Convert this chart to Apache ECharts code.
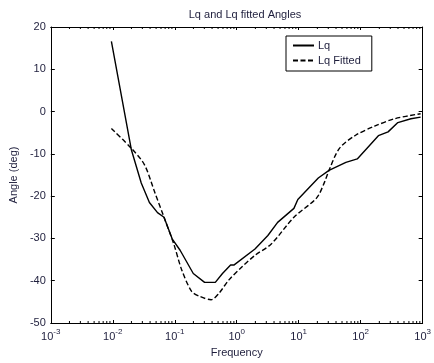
<!DOCTYPE html>
<html><head><meta charset="utf-8">
<script src="https://cdn.jsdelivr.net/npm/echarts@6/dist/echarts.min.js"></script>
<style>html,body{margin:0;padding:0;background:#fff}#c{width:434px;height:363px}</style>
</head><body><div id="c"></div>
<script>
// Data
var lqFreq = [0.0095, 0.020, 0.0288, 0.039, 0.0527, 0.0671, 0.0908, 0.122, 0.199, 0.303, 0.451, 0.589, 0.796, 0.898, 1.97, 3.18, 4.57, 8.37, 9.68, 20.7, 30.8, 57.7, 88.1, 193, 277, 398, 646, 927];
var lqAngle = [16.6, -9.1, -16.9, -21.5, -23.9, -25.0, -30.1, -32.8, -38.3, -40.4, -40.4, -38.3, -36.3, -36.3, -32.5, -29.3, -26.2, -22.9, -20.8, -15.7, -13.9, -12.0, -11.2, -5.7, -4.8, -2.6, -1.7, -1.3];
var fitFreq = [0.0095, 0.020, 0.0325, 0.0468, 0.0671, 0.0964, 0.130, 0.187, 0.253, 0.386, 0.521, 0.748, 1.22, 1.97, 3.61, 8.37, 19.5, 26.4, 30.8, 45.4, 82.8, 171, 352, 927];
var fitAngle = [-4.0, -8.7, -12.6, -18.8, -25.0, -31.3, -37.5, -42.5, -43.7, -44.5, -42.9, -39.8, -36.7, -34.0, -31.3, -25.0, -20.4, -16.5, -13.9, -8.7, -5.6, -3.4, -1.7, -0.5];
var yTicks = [-50, -40, -30, -20, -10, 0, 10, 20];
var xDecades = [-3, -2, -1, 0, 1, 2, 3];

function pairs(xs, ys) { return xs.map(function (x, i) { return [x, ys[i]]; }); }

var minorTicks = [];
for (var d = -3; d < 3; d++) for (var m = 2; m <= 9; m++) minorTicks.push([m * Math.pow(10, d), 0]);

var txt = '#1e1e3c';
var font = 'Liberation Sans, Arial, sans-serif';
var chart = echarts.init(document.getElementById('c'));
chart.setOption({
  animation: false,
  backgroundColor: '#fff',
  title: { text: 'Lq and Lq fitted Angles', left: 240, top: 4, textAlign: 'center',
    textStyle: { fontFamily: font, fontSize: 11, fontWeight: 'normal', color: txt } },
  grid: { left: 50.5, right: 2, top: 27, bottom: 36, containLabel: false },
  legend: {
    data: ['Lq', 'Lq Fitted'], orient: 'vertical', left: 286, top: 36,
    padding: [4, 11, 5, 6], itemGap: 4, itemWidth: 21, itemHeight: 10,
    borderColor: '#000', borderWidth: 1, backgroundColor: '#fff',
    itemStyle: { opacity: 0 },
    textStyle: { fontFamily: font, fontSize: 11, color: txt, padding: [0, 0, 0, -1] }
  },
  xAxis: [{
    type: 'log', min: 0.001, max: 1000, logBase: 10, interval: 1,
    name: 'Frequency', nameLocation: 'middle', nameGap: 24,
    nameTextStyle: { fontFamily: font, fontSize: 11, color: txt },
    axisLine: { onZero: false, lineStyle: { color: '#000', width: 1 } },
    axisTick: { inside: true, length: 3, lineStyle: { color: '#000' } },
    splitLine: { show: false },
    axisLabel: {
      margin: 5,
      formatter: function (v) { return '{b|10}{s|' + Math.round(Math.log10(v)) + '}'; },
      rich: {
        b: { fontFamily: font, fontSize: 11, color: txt, verticalAlign: 'bottom', lineHeight: 14 },
        s: { fontFamily: font, fontSize: 8, color: txt, verticalAlign: 'top', lineHeight: 14, padding: [0, 0, 6, 0] }
      }
    }
  }, {
    type: 'log', min: 0.001, max: 1000, logBase: 10, interval: 1, position: 'top',
    axisLine: { show: true, onZero: false, lineStyle: { color: '#000', width: 1 } },
    axisTick: { inside: true, length: 3, lineStyle: { color: '#000' } },
    axisLabel: { show: false }, splitLine: { show: false }
  }],
  yAxis: [{
    type: 'value', min: -50, max: 20, interval: 10,
    name: 'Angle (deg)', nameLocation: 'middle', nameGap: 29,
    nameTextStyle: { fontFamily: font, fontSize: 11, color: txt },
    axisLine: { show: true, onZero: false, lineStyle: { color: '#000', width: 1 } },
    axisTick: { show: true, inside: true, length: 4, lineStyle: { color: '#000' } },
    splitLine: { show: false },
    axisLabel: { margin: 5, fontFamily: font, fontSize: 11, color: txt }
  }, {
    type: 'value', min: -50, max: 20, interval: 10, position: 'right',
    axisLine: { show: true, onZero: false, lineStyle: { color: '#000', width: 1 } },
    axisTick: { show: true, inside: true, length: 4, lineStyle: { color: '#000' } },
    axisLabel: { show: false }, splitLine: { show: false }
  }],
  series: [{
    name: 'Lq', type: 'line', data: pairs(lqFreq, lqAngle), symbol: 'none', smooth: false,
    lineStyle: { color: '#000', width: 1.4 }, itemStyle: { color: '#000' }
  }, {
    name: 'Lq Fitted', type: 'line', data: pairs(fitFreq, fitAngle), symbol: 'none', smooth: 0.3,
    lineStyle: { color: '#000', width: 1.4, type: [5, 2.5] }, itemStyle: { color: '#000' }
  }, {
    name: 'minor', type: 'custom', silent: true, data: minorTicks,
    renderItem: function (params, api) {
      var b = api.coord([api.value(0), -50]);
      var t = api.coord([api.value(0), 20]);
      var st = { stroke: '#000', lineWidth: 1 };
      return { type: 'group', children: [
        { type: 'line', shape: { x1: b[0], y1: b[1], x2: b[0], y2: b[1] - 2 }, style: st },
        { type: 'line', shape: { x1: t[0], y1: t[1], x2: t[0], y2: t[1] + 2 }, style: st }
      ] };
    }
  }]
});
</script></body></html>
